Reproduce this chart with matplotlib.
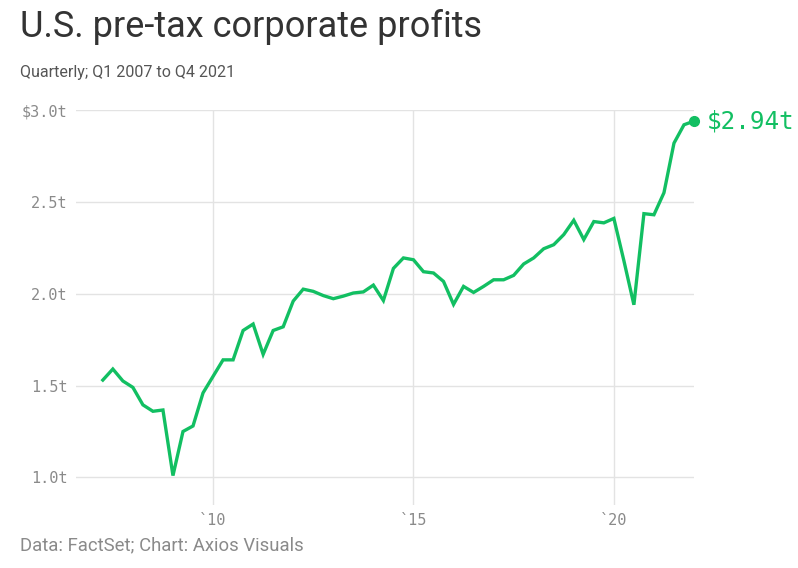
import numpy as np
import matplotlib.pyplot as plt

# quarterly pre-tax profits, trillions of dollars, Q1 2007 .. Q4 2021
years = list(range(2007, 2022))
profits = [
    1.53, 1.59, 1.525, 1.49,    # 2007
    1.395, 1.36, 1.367, 1.01,   # 2008
    1.25, 1.28, 1.46, 1.55,     # 2009
    1.64, 1.64, 1.80, 1.835,    # 2010
    1.67, 1.80, 1.82, 1.96,     # 2011
    2.025, 2.013, 1.99, 1.973,  # 2012
    1.987, 2.004, 2.01, 2.047,  # 2013
    1.963, 2.138, 2.195, 2.185, # 2014
    2.12, 2.113, 2.067, 1.942,  # 2015
    2.04, 2.007, 2.04, 2.076,   # 2016
    2.076, 2.10, 2.162, 2.195,  # 2017
    2.245, 2.267, 2.322, 2.40,  # 2018
    2.295, 2.393, 2.386, 2.41,  # 2019
    2.18, 1.94, 2.436, 2.43,    # 2020
    2.55, 2.82, 2.92, 2.94,     # 2021
]
y_ticks = [1.0, 1.5, 2.0, 2.5, 3.0]
y_labels = ['1.0t', '1.5t', '2.0t', '2.5t', '$3.0t']
x_ticks = [2010, 2015, 2020]
x_labels = ['`10', '`15', '`20']
last_label = '$2.94t'

green = '#12BF62'
grid_c = '#E3E3E3'
tick_c = '#8A8A8A'

# plot each quarter at the end of the quarter
x = np.array([y + q / 4 for y in years for q in range(1, 5)])
y = np.array(profits)

fig = plt.figure(figsize=(7.98, 5.68), dpi=100)
ax = fig.add_axes([0.0952, 0.111, 0.7745, 0.6952])

ax.plot(x, y, color=green, lw=2.4, solid_joinstyle='miter', zorder=3)
ax.plot(x[-1], y[-1], 'o', color=green, ms=7, clip_on=False, zorder=4)
ax.text(x[-1] + 0.33, y[-1], last_label, color=green, fontsize=17.5,
        family='DejaVu Sans Mono', va='center', ha='left')

ax.set_xlim(2006.58, 2022.0)
ax.set_ylim(0.85, 3.0)
ax.set_yticks(y_ticks)
ax.set_yticklabels(y_labels)
ax.set_xticks(x_ticks)
ax.set_xticklabels(x_labels)
ax.grid(True, color=grid_c, lw=1)
ax.set_axisbelow(True)
for s in ax.spines.values():
    s.set_visible(False)
ax.tick_params(length=0, colors=tick_c, labelsize=11, pad=6)
for lab in ax.get_xticklabels() + ax.get_yticklabels():
    lab.set_family('DejaVu Sans Mono')

fig.text(0.025, 0.952, 'U.S. pre-tax corporate profits', fontsize=26,
         family='Roboto', color='#333333', va='center')
fig.text(0.025, 0.872, 'Quarterly; Q1 2007 to Q4 2021', fontsize=11.5,
         family='Roboto', color='#555555', va='center')
fig.text(0.025, 0.04, 'Data: FactSet; Chart: Axios Visuals', fontsize=13.3,
         family=['Liberation Sans Narrow', 'Roboto'], color='#8A8A8A', va='center')

fig.savefig('out.png', dpi=100)
